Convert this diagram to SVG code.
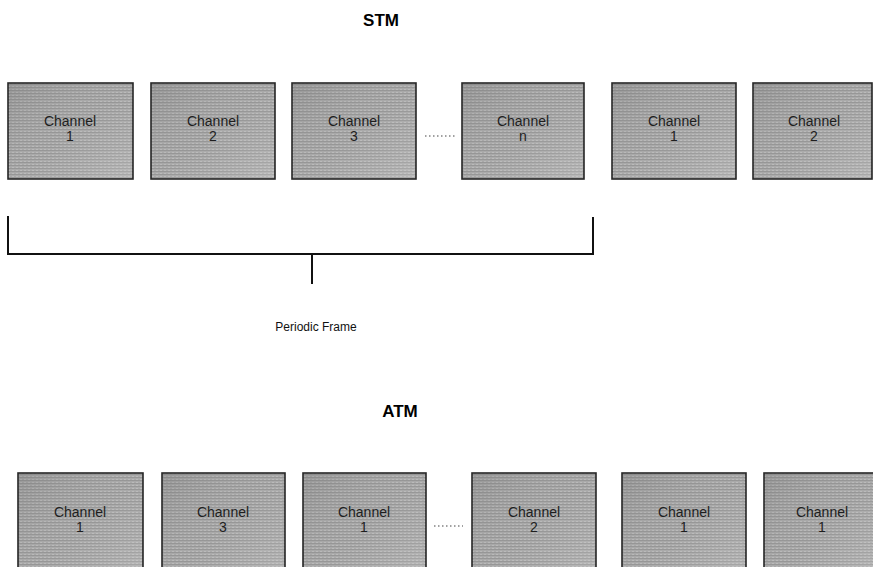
<svg xmlns="http://www.w3.org/2000/svg" width="873" height="567" viewBox="0 0 873 567">
<style>
.box{fill:url(#scan);stroke:#262626;stroke-width:1.6}
.shade{fill:url(#mott);stroke:none}
.lbl{font-family:"Liberation Sans",Arial,sans-serif;font-size:14px;fill:#1e1e1e;text-anchor:middle}
.title{font-family:"Liberation Sans",Arial,sans-serif;font-size:17px;font-weight:bold;fill:#000;text-anchor:middle}
.cap{font-family:"Liberation Sans",Arial,sans-serif;font-size:12px;fill:#111;text-anchor:middle}
.dots{stroke:#444;stroke-width:1.2;stroke-dasharray:1.5 2.5;fill:none}
.line{stroke:#111;stroke-width:2;fill:none}
</style>
<defs>
<pattern id="scan" width="4" height="3" patternUnits="userSpaceOnUse">
<rect width="4" height="3" fill="#a4a4a4"/>
<rect width="4" height="1" fill="#8e8e8e"/>
<rect x="0" y="2" width="2" height="1" fill="#b8b8b8"/>
</pattern>
<linearGradient id="mott" x1="0" y1="0" x2="1" y2="1">
<stop offset="0" stop-color="#808080" stop-opacity="0.35"/>
<stop offset="0.5" stop-color="#c8c8c8" stop-opacity="0.15"/>
<stop offset="1" stop-color="#e0e0e0" stop-opacity="0.35"/>
</linearGradient>
</defs>

<text class="title" x="381" y="26">STM</text>

<g id="stm1"><rect class="box" x="8" y="83" width="125" height="96"/><rect class="shade" x="9" y="84" width="123" height="94"/><text class="lbl" x="70" y="126">Channel</text><text class="lbl" x="70" y="141">1</text></g>
<g id="stm2"><rect class="box" x="151" y="83" width="124" height="96"/><rect class="shade" x="152" y="84" width="122" height="94"/><text class="lbl" x="213" y="126">Channel</text><text class="lbl" x="213" y="141">2</text></g>
<g id="stm3"><rect class="box" x="292" y="83" width="124" height="96"/><rect class="shade" x="293" y="84" width="122" height="94"/><text class="lbl" x="354" y="126">Channel</text><text class="lbl" x="354" y="141">3</text></g>
<g id="stm4"><rect class="box" x="462" y="83" width="122" height="96"/><rect class="shade" x="463" y="84" width="120" height="94"/><text class="lbl" x="523" y="126">Channel</text><text class="lbl" x="523" y="141">n</text></g>
<g id="stm5"><rect class="box" x="612" y="83" width="124" height="96"/><rect class="shade" x="613" y="84" width="122" height="94"/><text class="lbl" x="674" y="126">Channel</text><text class="lbl" x="674" y="141">1</text></g>
<g id="stm6"><rect class="box" x="753" y="83" width="119" height="96"/><rect class="shade" x="754" y="84" width="117" height="94"/><text class="lbl" x="814" y="126">Channel</text><text class="lbl" x="814" y="141">2</text></g>

<g id="connectors">
<line class="dots" x1="425" y1="136" x2="456" y2="136"/>
<path class="line" d="M8,216 V254 H593 V217"/>
<path class="line" d="M312,254 V284"/>
<line class="dots" x1="434" y1="526" x2="463" y2="526"/>
</g>

<text class="cap" x="316" y="331">Periodic Frame</text>

<text class="title" x="400" y="417">ATM</text>

<g id="atm1"><rect class="box" x="18" y="473" width="125" height="110"/><rect class="shade" x="19" y="474" width="123" height="108"/><text class="lbl" x="80" y="517">Channel</text><text class="lbl" x="80" y="532">1</text></g>
<g id="atm2"><rect class="box" x="162" y="473" width="123" height="110"/><rect class="shade" x="163" y="474" width="121" height="108"/><text class="lbl" x="223" y="517">Channel</text><text class="lbl" x="223" y="532">3</text></g>
<g id="atm3"><rect class="box" x="303" y="473" width="123" height="110"/><rect class="shade" x="304" y="474" width="121" height="108"/><text class="lbl" x="364" y="517">Channel</text><text class="lbl" x="364" y="532">1</text></g>
<g id="atm4"><rect class="box" x="472" y="473" width="124" height="110"/><rect class="shade" x="473" y="474" width="122" height="108"/><text class="lbl" x="534" y="517">Channel</text><text class="lbl" x="534" y="532">2</text></g>
<g id="atm5"><rect class="box" x="622" y="473" width="124" height="110"/><rect class="shade" x="623" y="474" width="122" height="108"/><text class="lbl" x="684" y="517">Channel</text><text class="lbl" x="684" y="532">1</text></g>
<g id="atm6"><rect class="box" x="764" y="473" width="110" height="110"/><rect class="shade" x="765" y="474" width="108" height="108"/><text class="lbl" x="822" y="517">Channel</text><text class="lbl" x="822" y="532">1</text></g>
</svg>
